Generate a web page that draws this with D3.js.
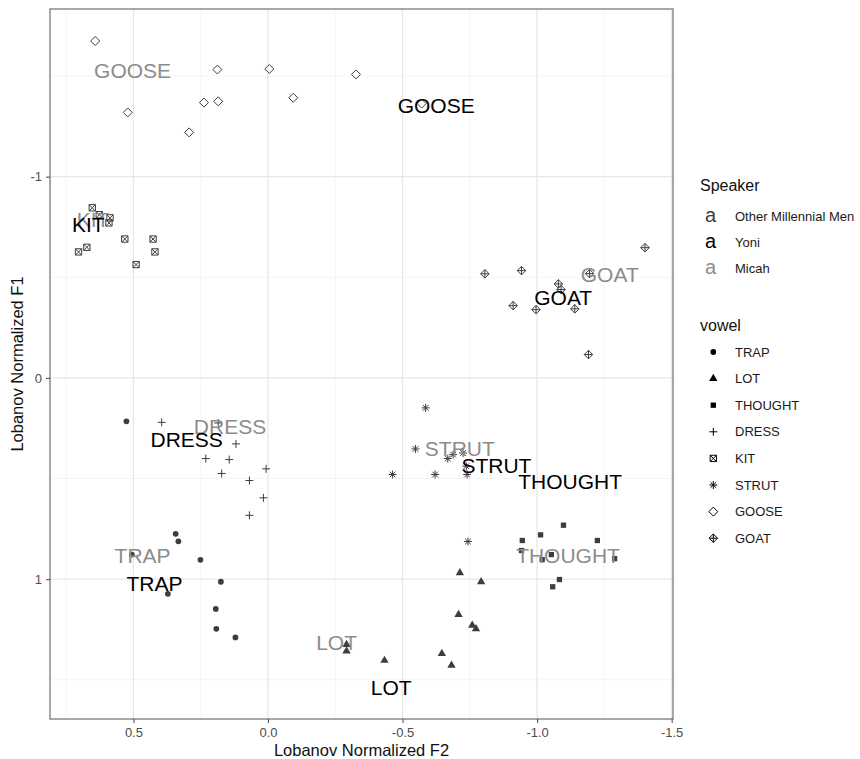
<!DOCTYPE html>
<html><head><meta charset="utf-8">
<script src="https://cdn.jsdelivr.net/npm/d3@7"></script>
<style>body{margin:0;background:#fff} text{font-family:"Liberation Sans",Arial,Helvetica,sans-serif}</style>
</head><body><svg id="chart" width="860" height="759"></svg>
<script>
// ---------- data ----------
const vowels = ["TRAP","LOT","THOUGHT","DRESS","KIT","STRUT","GOOSE","GOAT"];
const speakers = ["Other Millennial Men","Yoni","Micah"];
const xTicks = [0.5, 0, -0.5, -1, -1.5];
const yTicks = [-1, 0, 1];
const xMinor = [0.75, 0.25, -0.25, -0.75, -1.25];
const yMinor = [-1.5, -0.5, 0.5, 1.5];

// Other Millennial Men tokens (F2, F1)
const trapF2    = [0.526, 0.343, 0.333, 0.251, 0.175, 0.194, 0.192, 0.121, 0.372, 0.506];
const trapF1    = [0.216, 0.775, 0.812, 0.904, 1.013, 1.148, 1.247, 1.290, 1.073, 0.878];
const lotF2     = [-0.713, -0.792, -0.708, -0.759, -0.773, -0.646, -0.682, -0.433, -0.292, -0.292];
const lotF1     = [0.969, 1.013, 1.176, 1.230, 1.247, 1.370, 1.428, 1.404, 1.325, 1.358];
const thoughtF2 = [-1.098, -1.013, -0.945, -1.224, -1.053, -1.019, -1.288, -1.083, -1.058, -0.942];
const thoughtF1 = [0.732, 0.780, 0.808, 0.808, 0.878, 0.903, 0.898, 1.002, 1.038, 0.858];
const dressF2   = [0.395, 0.185, 0.119, 0.231, 0.144, 0.172, 0.007, 0.069, 0.017, 0.069];
const dressF1   = [0.221, 0.224, 0.328, 0.401, 0.406, 0.475, 0.452, 0.510, 0.596, 0.683];
const kitF2     = [0.653, 0.627, 0.587, 0.591, 0.532, 0.427, 0.420, 0.490, 0.704, 0.673];
const kitF1     = [-0.845, -0.811, -0.795, -0.770, -0.690, -0.690, -0.626, -0.563, -0.626, -0.649];
const strutF2   = [-0.586, -0.548, -0.668, -0.688, -0.725, -0.737, -0.463, -0.621, -0.740, -0.743];
const strutF1   = [0.149, 0.353, 0.401, 0.381, 0.373, 0.439, 0.480, 0.480, 0.480, 0.813];
const gooseF2   = [0.642, 0.188, -0.005, -0.327, 0.521, 0.238, 0.185, -0.094, 0.293, -0.571];
const gooseF1   = [-1.674, -1.532, -1.535, -1.508, -1.319, -1.368, -1.374, -1.392, -1.220, -1.363];
const goatF2    = [-1.401, -0.806, -0.942, -1.079, -1.089, -0.911, -0.996, -1.140, -1.191, -1.195];
const goatF1    = [-0.647, -0.517, -0.533, -0.467, -0.439, -0.359, -0.339, -0.343, -0.116, -0.518];

// Speaker means (label positions), in vowel order
const yoniF2  = [0.422, -0.458, -1.123, 0.302, 0.668, -0.849, -0.625, -1.097];
const yoniF1  = [1.022, 1.540, 0.517, 0.307, -0.762, 0.436, -1.353, -0.400];
const micahF2 = [0.466, -0.255, -1.115, 0.141, 0.650, -0.713, 0.503, -1.270];
const micahF1 = [0.881, 1.316, 0.881, 0.240, -0.788, 0.353, -1.527, -0.513];

// ---------- build ----------
const tokenF2 = [trapF2, lotF2, thoughtF2, dressF2, kitF2, strutF2, gooseF2, goatF2];
const tokenF1 = [trapF1, lotF1, thoughtF1, dressF1, kitF1, strutF1, gooseF1, goatF1];
const points = [];
vowels.forEach((v, i) => tokenF2[i].forEach((f2, j) => points.push({vowel: v, f2, f1: tokenF1[i][j]})));

const speakerColor = d3.scaleOrdinal().domain(speakers).range(["#3d3d3d", "#000000", "#8c8c8c"]);

const svg = d3.select("#chart");
const L = 50, R = 673, T = 9, B = 719;
const x = d3.scaleLinear().domain([0.81, -1.505]).range([L, R]);
const y = d3.scaleLinear().domain([-1.833, 1.695]).range([T, B]);

// custom symbols
const symPlus = {draw(c, s){const r = Math.sqrt(s)/2; c.moveTo(-r,0); c.lineTo(r,0); c.moveTo(0,-r); c.lineTo(0,r);}};
const symStar = {draw(c, s){const r = Math.sqrt(s)/2, q = r*0.7071; c.moveTo(-r,0); c.lineTo(r,0); c.moveTo(0,-r); c.lineTo(0,r); c.moveTo(-q,-q); c.lineTo(q,q); c.moveTo(-q,q); c.lineTo(q,-q);}};
const symDiamond = {draw(c, s){const r = Math.sqrt(s)/2; c.moveTo(0,-r); c.lineTo(r,0); c.lineTo(0,r); c.lineTo(-r,0); c.closePath();}};
const symDiamondPlus = {draw(c, s){const r = Math.sqrt(s)/2; c.moveTo(0,-r); c.lineTo(r,0); c.lineTo(0,r); c.lineTo(-r,0); c.closePath(); c.moveTo(-r,0); c.lineTo(r,0); c.moveTo(0,-r); c.lineTo(0,r);}};
const symSquareX = {draw(c, s){const r = Math.sqrt(s)/2; c.moveTo(-r,-r); c.lineTo(r,-r); c.lineTo(r,r); c.lineTo(-r,r); c.closePath(); c.moveTo(-r,-r); c.lineTo(r,r); c.moveTo(-r,r); c.lineTo(r,-r);}};

const shapeType = d3.scaleOrdinal().domain(vowels).range([d3.symbolCircle, d3.symbolTriangle, d3.symbolSquare, symPlus, symSquareX, symStar, symDiamond, symDiamondPlus]);
const shapeSize = d3.scaleOrdinal().domain(vowels).range([26, 30, 28, 64, 40, 64, 81, 72]);
const shapeFilled = d3.scaleOrdinal().domain(vowels).range([true, true, true, false, false, false, false, false]);
const sym = d3.symbol().type(d => shapeType(d)).size(d => shapeSize(d));

// grid
const g = svg.append("g");
g.selectAll(".xmin").data(xMinor).join("line").attr("x1", d => x(d)).attr("x2", d => x(d)).attr("y1", T).attr("y2", B).attr("stroke", "#f0f0f0").attr("stroke-width", 0.7);
g.selectAll(".ymin").data(yMinor).join("line").attr("y1", d => y(d)).attr("y2", d => y(d)).attr("x1", L).attr("x2", R).attr("stroke", "#f0f0f0").attr("stroke-width", 0.7);
g.selectAll(".xmaj").data(xTicks).join("line").attr("x1", d => x(d)).attr("x2", d => x(d)).attr("y1", T).attr("y2", B).attr("stroke", "#e6e6e6").attr("stroke-width", 1.2);
g.selectAll(".ymaj").data(yTicks).join("line").attr("y1", d => y(d)).attr("y2", d => y(d)).attr("x1", L).attr("x2", R).attr("stroke", "#e6e6e6").attr("stroke-width", 1.2);

// points
svg.append("g").selectAll("path").data(points).join("path")
  .attr("transform", d => `translate(${x(d.f2)},${y(d.f1)})`)
  .attr("d", d => sym(d.vowel))
  .attr("fill", d => shapeFilled(d.vowel) ? speakerColor(speakers[0]) : "none")
  .attr("stroke", d => shapeFilled(d.vowel) ? "none" : speakerColor(speakers[0]))
  .attr("stroke-width", 1);

// labels
const labelData = [];
vowels.forEach((v, i) => labelData.push({vowel: v, sp: "Micah", f2: micahF2[i], f1: micahF1[i]}));
vowels.forEach((v, i) => labelData.push({vowel: v, sp: "Yoni", f2: yoniF2[i], f1: yoniF1[i]}));
svg.append("g").selectAll("text").data(labelData).join("text")
  .attr("x", d => x(d.f2)).attr("y", d => y(d.f1)).attr("dy", "0.36em")
  .attr("text-anchor", "middle").attr("font-size", 21)
  .attr("fill", d => speakerColor(d.sp)).text(d => d.vowel);

// panel border
svg.append("rect").attr("x", L).attr("y", T).attr("width", R - L).attr("height", B - T)
  .attr("fill", "none").attr("stroke", "#7a7a7a").attr("stroke-width", 1.3);

// axes
const xAxis = svg.append("g").attr("transform", `translate(0,${B})`)
  .call(d3.axisBottom(x).tickValues(xTicks).tickFormat(d => d.toFixed(1).replace("-0.0","0.0")).tickSize(4).tickPadding(5));
const yAxis = svg.append("g").attr("transform", `translate(${L},0)`)
  .call(d3.axisLeft(y).tickValues(yTicks).tickFormat(d => String(d)).tickSize(4).tickPadding(4));
[xAxis, yAxis].forEach(a => {
  a.select(".domain").remove();
  a.selectAll(".tick line").attr("stroke", "#555").attr("stroke-width", 1.1);
  a.selectAll(".tick text").attr("fill", "#4d4d4d").attr("font-size", 13).attr("font-family", "Liberation Sans, Arial, sans-serif");
});

svg.append("text").attr("x", (L + R) / 2).attr("y", 756).attr("text-anchor", "middle")
  .attr("font-size", 16.5).attr("fill", "#111").text("Lobanov Normalized F2");
svg.append("text").attr("transform", `translate(17,${(T + B) / 2}) rotate(-90)`).attr("dy", "0.36em")
  .attr("text-anchor", "middle").attr("font-size", 16.5).attr("fill", "#111").text("Lobanov Normalized F1");

// legend: Speaker
const lg = svg.append("g");
lg.append("text").attr("x", 700).attr("y", 191).attr("font-size", 16).attr("fill", "#111").text("Speaker");
const spY = d3.scalePoint().domain(speakers).range([216.5, 268.5]);
lg.selectAll(".spk").data(speakers).join("text")
  .attr("x", 710.5).attr("y", d => spY(d) + 5.5).attr("text-anchor", "middle").attr("font-size", 20)
  .attr("fill", d => speakerColor(d)).text("a");
lg.selectAll(".spl").data(speakers).join("text")
  .attr("x", 735).attr("y", d => spY(d)).attr("dy", "0.36em").attr("font-size", 13).attr("fill", "#1a1a1a").text(d => d);

// legend: vowel
lg.append("text").attr("x", 700).attr("y", 330.5).attr("font-size", 16).attr("fill", "#111").text("vowel");
const vY = d3.scalePoint().domain(vowels).range([352, 538.2]);
lg.selectAll(".vs").data(vowels).join("path")
  .attr("transform", d => `translate(713.3,${vY(d)})`)
  .attr("d", d => sym(d))
  .attr("fill", d => shapeFilled(d) ? "#000" : "none")
  .attr("stroke", d => shapeFilled(d) ? "none" : "#000")
  .attr("stroke-width", 1);
lg.selectAll(".vl").data(vowels).join("text")
  .attr("x", 735).attr("y", d => vY(d)).attr("dy", "0.36em").attr("font-size", 13).attr("fill", "#1a1a1a").text(d => d);
</script>
</body></html>
